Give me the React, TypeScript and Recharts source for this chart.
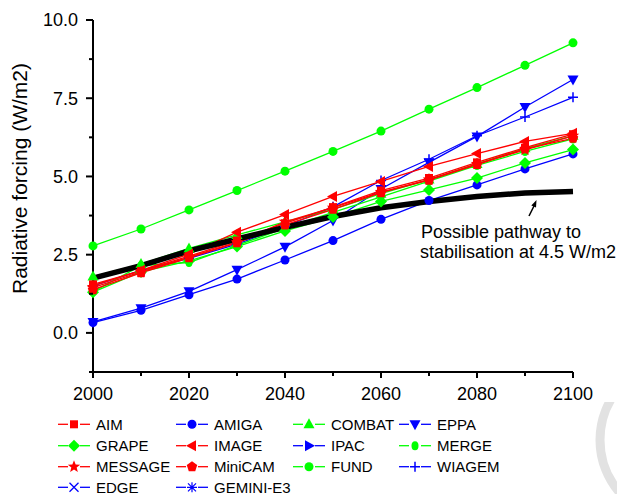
import React from 'react';
import { LineChart, Line, XAxis, YAxis, Legend, Customized } from 'recharts';

const YEARS = [2000, 2010, 2020, 2030, 2040, 2050, 2060, 2070, 2080, 2090, 2100];

// red models
const AIM = [1.55, 1.98, 2.45, 2.95, 3.5, 4.02, 4.55, 4.95, 5.45, 5.92, 6.35];
const IMAGE = [1.5, 2.0, 2.52, 3.22, 3.78, 4.36, 4.84, 5.32, 5.73, 6.12, 6.38];
const MESSAGE = [1.45, 1.95, 2.42, 2.9, 3.55, 4.0, 4.5, 4.9, 5.4, 5.85, 6.3];
const MINICAM = [1.38, 1.92, 2.4, 2.88, 3.45, 3.95, 4.48, 4.88, 5.38, 5.88, 6.22];
// green models
const COMBAT = [1.8, 2.2, 2.7, 3.13, 3.55, 3.95, 4.45, 4.9, 5.4, 5.9, 6.3];
const GRAPE = [1.3, 1.95, 2.3, 2.76, 3.26, 3.7, 4.2, 4.57, 4.95, 5.43, 5.86];
const MERGE = [1.32, 2.15, 2.25, 2.8, 3.35, 3.85, 4.35, 4.85, 5.35, 5.8, 6.2];
const FUND = [2.78, 3.32, 3.93, 4.55, 5.17, 5.8, 6.45, 7.15, 7.84, 8.55, 9.27];
// blue models
const AMIGA = [0.33, 0.72, 1.22, 1.72, 2.33, 2.95, 3.63, 4.23, 4.73, 5.24, 5.72];
const EPPA = [0.35, 0.79, 1.33, 2.02, 2.75, 3.59, 4.6, 5.45, 6.28, 7.22, 8.1];
const WIAGEM = [1.5, 2.0, 2.38, 2.84, 3.4, 4.03, 4.87, 5.55, 6.3, 6.9, 7.53];
const IPAC: number[] = [];
const EDGE: number[] = [];
const GEMINI = [] as number[];

const PATHWAY = [1.75, 2.15, 2.62, 3.0, 3.37, 3.72, 4.0, 4.2, 4.36, 4.47, 4.52];

const Y_TICKS = [-1.25, 0, 1.25, 2.5, 3.75, 5, 6.25, 7.5, 8.75, 10];
const X_TICKS = [2000, 2010, 2020, 2030, 2040, 2050, 2060, 2070, 2080, 2090, 2100];

const RED = '#ff0000';
const GREEN = '#00ff00';
const BLUE = '#0000ff';
const FONT = '"Liberation Sans", Arial, sans-serif';

const SERIES = [
  { name: 'AIM', values: AIM, color: RED, shape: 'square' },
  { name: 'AMIGA', values: AMIGA, color: BLUE, shape: 'circle' },
  { name: 'COMBAT', values: COMBAT, color: GREEN, shape: 'triUp' },
  { name: 'EPPA', values: EPPA, color: BLUE, shape: 'triDown' },
  { name: 'GRAPE', values: GRAPE, color: GREEN, shape: 'diamond' },
  { name: 'IMAGE', values: IMAGE, color: RED, shape: 'triLeft' },
  { name: 'IPAC', values: IPAC, color: BLUE, shape: 'triRight' },
  { name: 'MERGE', values: MERGE, color: GREEN, shape: 'ellipse' },
  { name: 'MESSAGE', values: MESSAGE, color: RED, shape: 'star' },
  { name: 'MiniCAM', values: MINICAM, color: RED, shape: 'pentagon' },
  { name: 'FUND', values: FUND, color: GREEN, shape: 'circle' },
  { name: 'WIAGEM', values: WIAGEM, color: BLUE, shape: 'plus' },
  { name: 'EDGE', values: EDGE, color: BLUE, shape: 'cross' },
  { name: 'GEMINI-E3', values: GEMINI, color: BLUE, shape: 'asterisk' },
];

// draw order: blue, green, red underneath the pathway
const DRAW_ORDER = ['AMIGA', 'EPPA', 'WIAGEM', 'FUND', 'GRAPE', 'MERGE', 'COMBAT', 'MiniCAM', 'MESSAGE', 'AIM', 'IMAGE'];

const data = YEARS.map((year, i) => {
  const row: Record<string, number | undefined> = { year, pathway: PATHWAY[i] };
  SERIES.forEach(s => {
    row[s.name] = s.values[i];
  });
  return row;
});

const polyPoints = (cx: number, cy: number, n: number, r: number, rot: number, inner?: number) => {
  const pts: string[] = [];
  const count = inner ? n * 2 : n;
  for (let k = 0; k < count; k++) {
    const rr = inner && k % 2 === 1 ? inner : r;
    const a = rot + (k * Math.PI * 2) / count;
    pts.push(`${cx + rr * Math.cos(a)},${cy + rr * Math.sin(a)}`);
  }
  return pts.join(' ');
};

const Marker = ({ shape, cx, cy, color }: { shape: string; cx: number; cy: number; color: string }) => {
  if (cx == null || cy == null) return null;
  switch (shape) {
    case 'square':
      return <rect x={cx - 4} y={cy - 4} width={8} height={8} fill={color} />;
    case 'circle':
      return <circle cx={cx} cy={cy} r={4.5} fill={color} />;
    case 'ellipse':
      return <ellipse cx={cx} cy={cy} rx={3.5} ry={4.5} fill={color} />;
    case 'triUp':
      return <polygon points={`${cx},${cy - 6} ${cx + 5.5},${cy + 4} ${cx - 5.5},${cy + 4}`} fill={color} />;
    case 'triDown':
      return <polygon points={`${cx},${cy + 6} ${cx + 5.5},${cy - 4} ${cx - 5.5},${cy - 4}`} fill={color} />;
    case 'triLeft':
      return <polygon points={`${cx - 6},${cy} ${cx + 4},${cy - 5.5} ${cx + 4},${cy + 5.5}`} fill={color} />;
    case 'triRight':
      return <polygon points={`${cx + 6},${cy} ${cx - 4},${cy - 5.5} ${cx - 4},${cy + 5.5}`} fill={color} />;
    case 'diamond':
      return <polygon points={`${cx},${cy - 6} ${cx + 6},${cy} ${cx},${cy + 6} ${cx - 6},${cy}`} fill={color} />;
    case 'star':
      return <polygon points={polyPoints(cx, cy, 5, 6.5, -Math.PI / 2, 2.8)} fill={color} />;
    case 'pentagon':
      return <polygon points={polyPoints(cx, cy, 5, 5.5, -Math.PI / 2)} fill={color} />;
    case 'plus':
      return <path d={`M${cx - 5},${cy}H${cx + 5}M${cx},${cy - 5}V${cy + 5}`} stroke={color} strokeWidth={1.5} fill="none" />;
    case 'cross':
      return <path d={`M${cx - 4.5},${cy - 4.5}L${cx + 4.5},${cy + 4.5}M${cx - 4.5},${cy + 4.5}L${cx + 4.5},${cy - 4.5}`} stroke={color} strokeWidth={1.3} fill="none" />;
    case 'asterisk':
      return (
        <path
          d={`M${cx - 5},${cy}H${cx + 5}M${cx},${cy - 5}V${cy + 5}M${cx - 4},${cy - 4}L${cx + 4},${cy + 4}M${cx - 4},${cy + 4}L${cx + 4},${cy - 4}`}
          stroke={color}
          strokeWidth={1.2}
          fill="none"
        />
      );
    default:
      return null;
  }
};

const YTick = (props: any) => {
  const { x, y, payload } = props;
  const v = payload.value;
  const major = Math.abs(v / 2.5 - Math.round(v / 2.5)) < 1e-6;
  return (
    <g>
      <line x1={x - (major ? 7 : 4)} x2={x} y1={y} y2={y} stroke="#000" strokeWidth={2} />
      {major && (
        <text x={x - 15} y={y} dy="0.36em" textAnchor="end" fontSize={18} fontFamily={FONT} fill="#000">
          {v.toFixed(1)}
        </text>
      )}
    </g>
  );
};

const XTick = (props: any) => {
  const { x, y, payload } = props;
  const v = payload.value;
  const major = v % 20 === 0;
  return (
    <g>
      <line x1={x} x2={x} y1={y} y2={y + (major ? 6 : 4)} stroke="#000" strokeWidth={2} />
      {major && (
        <text x={x} y={y + 28} textAnchor="middle" fontSize={18} fontFamily={FONT} fill="#000">
          {v}
        </text>
      )}
    </g>
  );
};

const LEGEND_TEXT_X = [96, 214, 331, 437];
const LEGEND_ROWS = [22.3, 43.7, 64.7, 85.3];

const LegendBox = () => (
  <svg width={617} height={92} style={{ display: 'block' }}>
    {/* faint watermark arc seen at the bottom right of the source */}
    <circle cx={680} cy={38} r={80} fill="none" stroke="#e2e2e2" strokeWidth={9} />
    {SERIES.map((s, i) => {
      const tx = LEGEND_TEXT_X[i % 4];
      const y = LEGEND_ROWS[Math.floor(i / 4)];
      const x = tx - 38;
      return (
        <g key={s.name}>
          <line x1={x} x2={x + 10} y1={y} y2={y} stroke={s.color} strokeWidth={1.3} />
          <line x1={x + 22} x2={x + 32} y1={y} y2={y} stroke={s.color} strokeWidth={1.3} />
          <Marker shape={s.shape} cx={x + 16} cy={y} color={s.color} />
          <text x={tx} y={y} dy="0.36em" fontSize={15} fontFamily={FONT} fill="#000">
            {s.name}
          </text>
        </g>
      );
    })}
  </svg>
);

const Annotation = () => (
  <g fontFamily={FONT} fill="#000">
    <text x={27} y={178.5} transform="rotate(-90 27 178.5)" textAnchor="middle" fontSize={21}>
      Radiative forcing (W/m2)
    </text>
    <text x={421} y={238} fontSize={18}>Possible pathway to</text>
    <text x={420} y={258} fontSize={18}>stabilisation at 4.5 W/m2</text>
    <line x1={529} y1={216} x2={534.5} y2={205} stroke="#000" strokeWidth={1.6} />
    <polygon points="536.5,200 536,207.5 531.3,205.4" fill="#000" />
  </g>
);

export default function App() {
  const byName = (n: string) => SERIES.find(s => s.name === n)!;
  return (
    <div style={{ position: 'absolute', left: 0, top: 0, width: 617, height: 494, background: '#fff' }}>
      <LineChart width={617} height={494} data={data} margin={{ top: 20, right: 44, bottom: 0, left: 33 }}>
        <XAxis
          dataKey="year"
          type="number"
          domain={[2000, 2100]}
          ticks={X_TICKS}
          interval={0}
          height={30}
          tickSize={0}
          tickMargin={0}
          tickLine={false}
          axisLine={{ stroke: '#000', strokeWidth: 2 }}
          tick={(p: any) => <XTick {...p} />}
        />
        <YAxis
          type="number"
          domain={[-1.25, 10]}
          ticks={Y_TICKS}
          interval={0}
          width={60}
          tickSize={0}
          tickMargin={0}
          tickLine={false}
          axisLine={{ stroke: '#000', strokeWidth: 2 }}
          tick={(p: any) => <YTick {...p} />}
        />
        {DRAW_ORDER.map(name => {
          const s = byName(name);
          return (
            <Line
              key={name}
              dataKey={name}
              type="linear"
              stroke={s.color}
              strokeWidth={1.3}
              isAnimationActive={false}
              dot={(p: any) => <Marker key={`${name}-${p.index}`} shape={s.shape} cx={p.cx} cy={p.cy} color={s.color} />}
              activeDot={false}
            />
          );
        })}
        <Line dataKey="pathway" type="linear" stroke="#000" strokeWidth={5.5} dot={false} activeDot={false} isAnimationActive={false} />
        <Legend verticalAlign="bottom" wrapperStyle={{ left: 0, width: 617 }} content={() => <LegendBox />} />
        <Customized component={<Annotation />} />
      </LineChart>
    </div>
  );
}
